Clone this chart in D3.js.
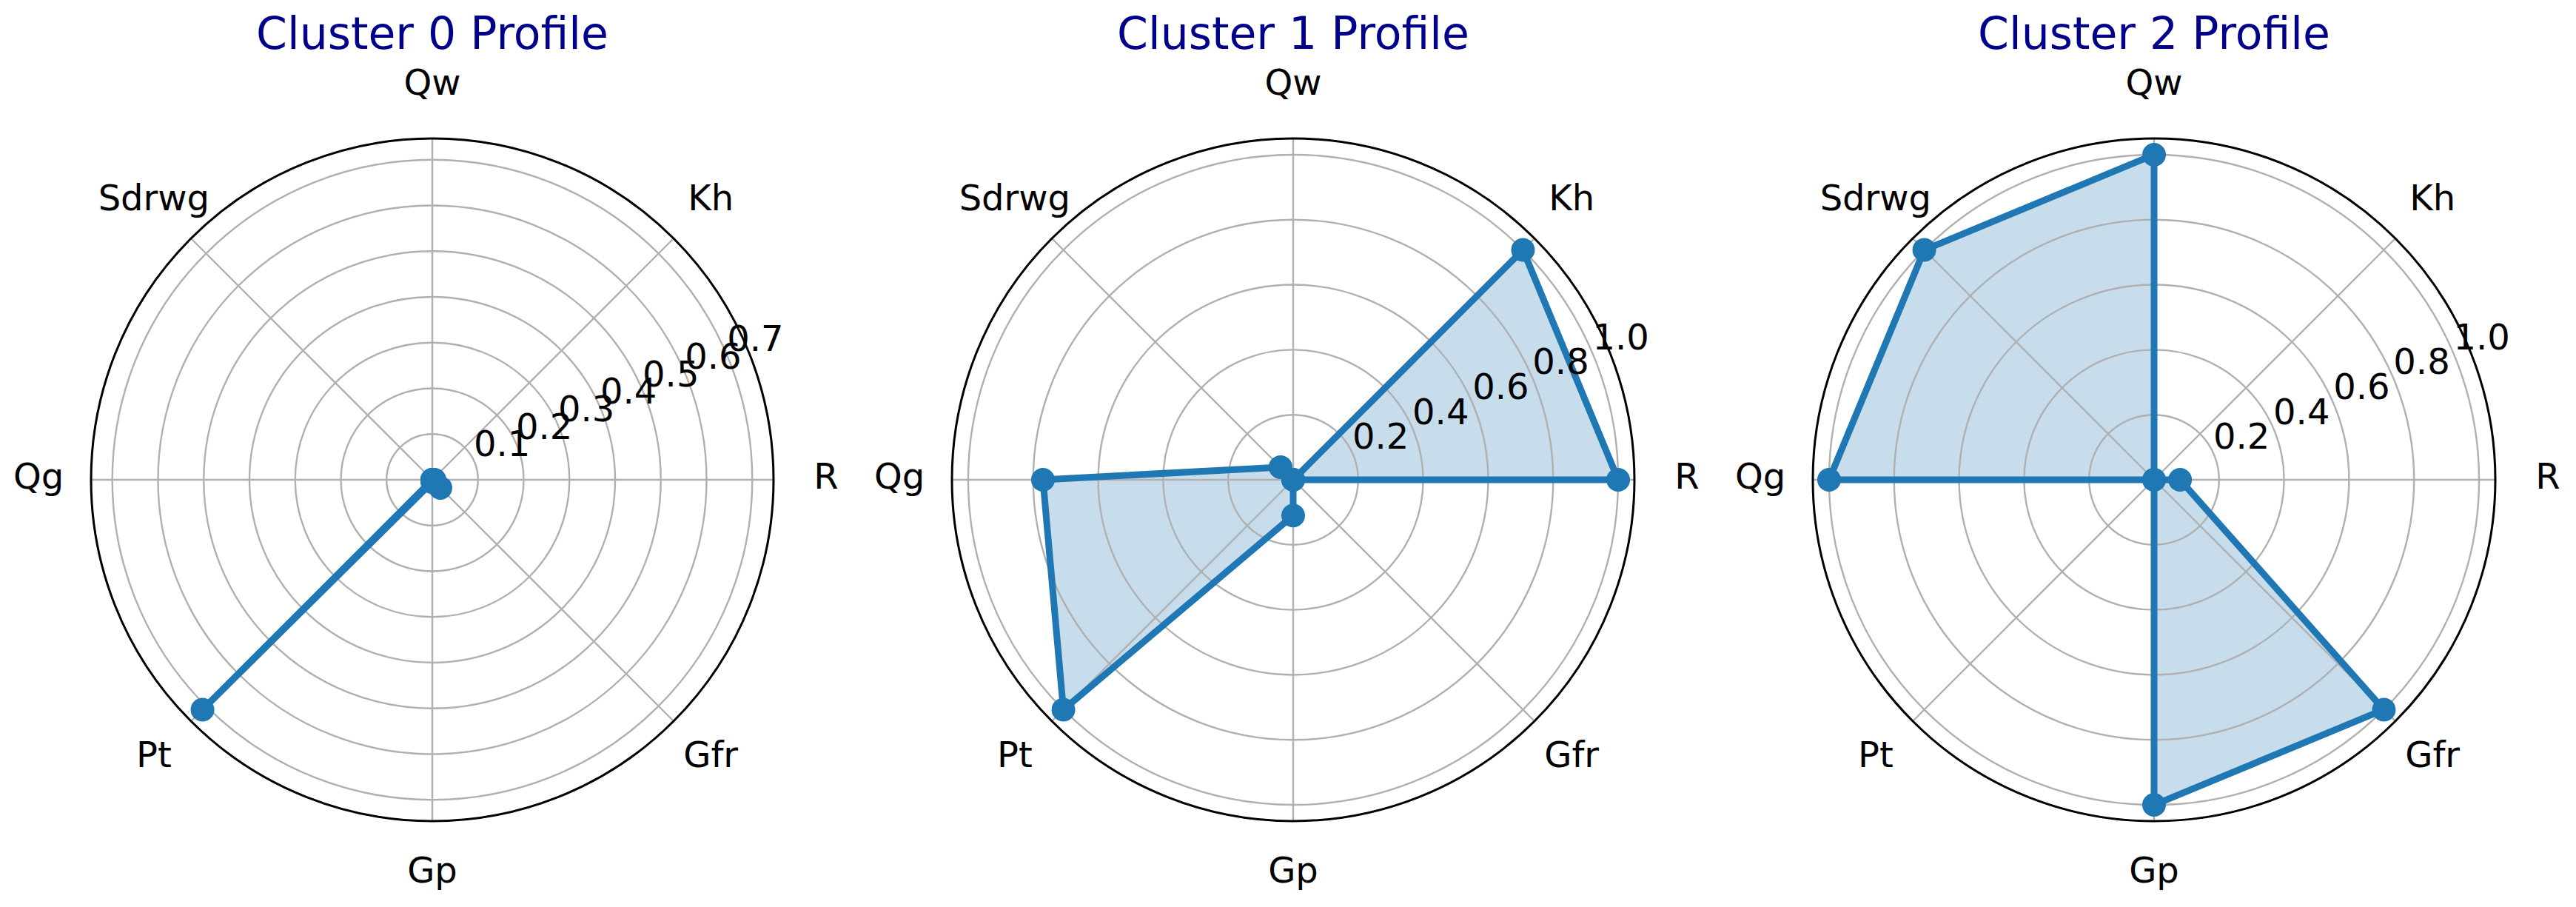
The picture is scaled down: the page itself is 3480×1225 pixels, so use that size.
<!DOCTYPE html>
<html>
<head>
<meta charset="utf-8">
<script src="https://cdn.jsdelivr.net/npm/d3@7"></script>
<style>
  body { margin: 0; background: #fff; }
  text { font-family: "DejaVu Sans", sans-serif; }
</style>
</head>
<body>
<svg id="svg"></svg>
<script>
//data

let features = ["R", "Kh", "Qw", "Sdrwg", "Qg", "Pt", "Gp", "Gfr"];
let titles = ["Cluster 0 Profile", "Cluster 1 Profile", "Cluster 2 Profile"];

let cluster0 = [0.005, 0, 0, 0, 0, 0.711, 0.005, 0.025];
let cluster1 = [1.0, 1.0, 0, 0.055, 0.77, 1.0, 0.11, 0];
let cluster2 = [0.08, 0, 1.0, 1.0, 1.0, 0, 1.0, 1.0];

let ticks0 = [0.1, 0.2, 0.3, 0.4, 0.5, 0.6, 0.7];
let ticks1 = [0.2, 0.4, 0.6, 0.8, 1.0];
let ticks2 = [0.2, 0.4, 0.6, 0.8, 1.0];

//variables

let width = 3480;
let height = 1225;
let centersX = [584, 1747, 2910];
let centerY = 648;
let radius = 461;
let blue = "#1f77b4";

let svg = d3.select("#svg");

//functions

let makeBackground = () => {
  svg.attr("width", width);
  svg.attr("height", height);
  svg.append("rect")
    .attr("width", width)
    .attr("height", height)
    .attr("fill", "#fff");
}

// matplotlib style angle: 0 at east, counter-clockwise
let angleOf = (i) => i * 2 * Math.PI / features.length;

let drawPanel = (k, values, ticks) => {
  let g = svg.append("g")
    .attr("transform", "translate(" + centersX[k] + ", " + centerY + ")");

  let rScale = d3.scaleLinear()
    .domain([0, d3.max(values) * 1.05])
    .range([0, radius]);

  // fill under everything
  let radial = d3.lineRadial()
    .angle((d, i) => Math.PI / 2 - angleOf(i))
    .radius((d) => rScale(d))
    .curve(d3.curveLinearClosed);

  g.append("path")
    .attr("d", radial(values))
    .attr("fill", blue)
    .attr("fill-opacity", 0.25)
    .attr("stroke", "none");

  // grid
  g.selectAll(".ring")
    .data(ticks)
    .enter()
    .append("circle")
    .attr("class", "ring")
    .attr("r", (d) => rScale(d))
    .attr("fill", "none")
    .attr("stroke", "#b0b0b0")
    .attr("stroke-width", 2.4);

  g.selectAll(".spoke")
    .data(features)
    .enter()
    .append("line")
    .attr("class", "spoke")
    .attr("x1", 0)
    .attr("y1", 0)
    .attr("x2", (d, i) => radius * Math.cos(angleOf(i)))
    .attr("y2", (d, i) => -radius * Math.sin(angleOf(i)))
    .attr("stroke", "#b0b0b0")
    .attr("stroke-width", 2.4);

  // line + markers
  g.append("path")
    .attr("d", radial(values))
    .attr("fill", "none")
    .attr("stroke", blue)
    .attr("stroke-width", 9)
    .attr("stroke-linejoin", "round");

  g.selectAll(".dot")
    .data(values)
    .enter()
    .append("circle")
    .attr("class", "dot")
    .attr("cx", (d, i) => rScale(d) * Math.cos(angleOf(i)))
    .attr("cy", (d, i) => -rScale(d) * Math.sin(angleOf(i)))
    .attr("r", 16)
    .attr("fill", blue);

  // outer frame
  g.append("circle")
    .attr("r", radius)
    .attr("fill", "none")
    .attr("stroke", "#000")
    .attr("stroke-width", 3);

  // r tick labels along 22.5 degrees
  let labelAngle = Math.PI / 8;
  g.selectAll(".rlabel")
    .data(ticks)
    .enter()
    .append("text")
    .attr("class", "rlabel")
    .attr("x", (d) => rScale(d) * Math.cos(labelAngle) + 37)
    .attr("y", (d) => -rScale(d) * Math.sin(labelAngle) - 25)
    .attr("dy", "0.35em")
    .attr("text-anchor", "middle")
    .attr("font-size", 48)
    .attr("fill", "#000")
    .text(d3.format(".1f"));

  // feature labels
  g.selectAll(".tlabel")
    .data(features)
    .enter()
    .append("text")
    .attr("class", "tlabel")
    .attr("x", (d, i) => (radius + 71) * Math.cos(angleOf(i)))
    .attr("y", (d, i) => -(radius + 71) * Math.sin(angleOf(i)) - 5)
    .attr("dy", "0.35em")
    .attr("text-anchor", "middle")
    .attr("font-size", 48)
    .attr("fill", "#000")
    .text((d) => d);

  // title
  svg.append("text")
    .attr("x", centersX[k])
    .attr("y", 66)
    .attr("text-anchor", "middle")
    .attr("font-size", 60)
    .attr("fill", "#00008b")
    .text(titles[k]);
}

makeBackground();
drawPanel(0, cluster0, ticks0);
drawPanel(1, cluster1, ticks1);
drawPanel(2, cluster2, ticks2);
</script>
</body>
</html>
